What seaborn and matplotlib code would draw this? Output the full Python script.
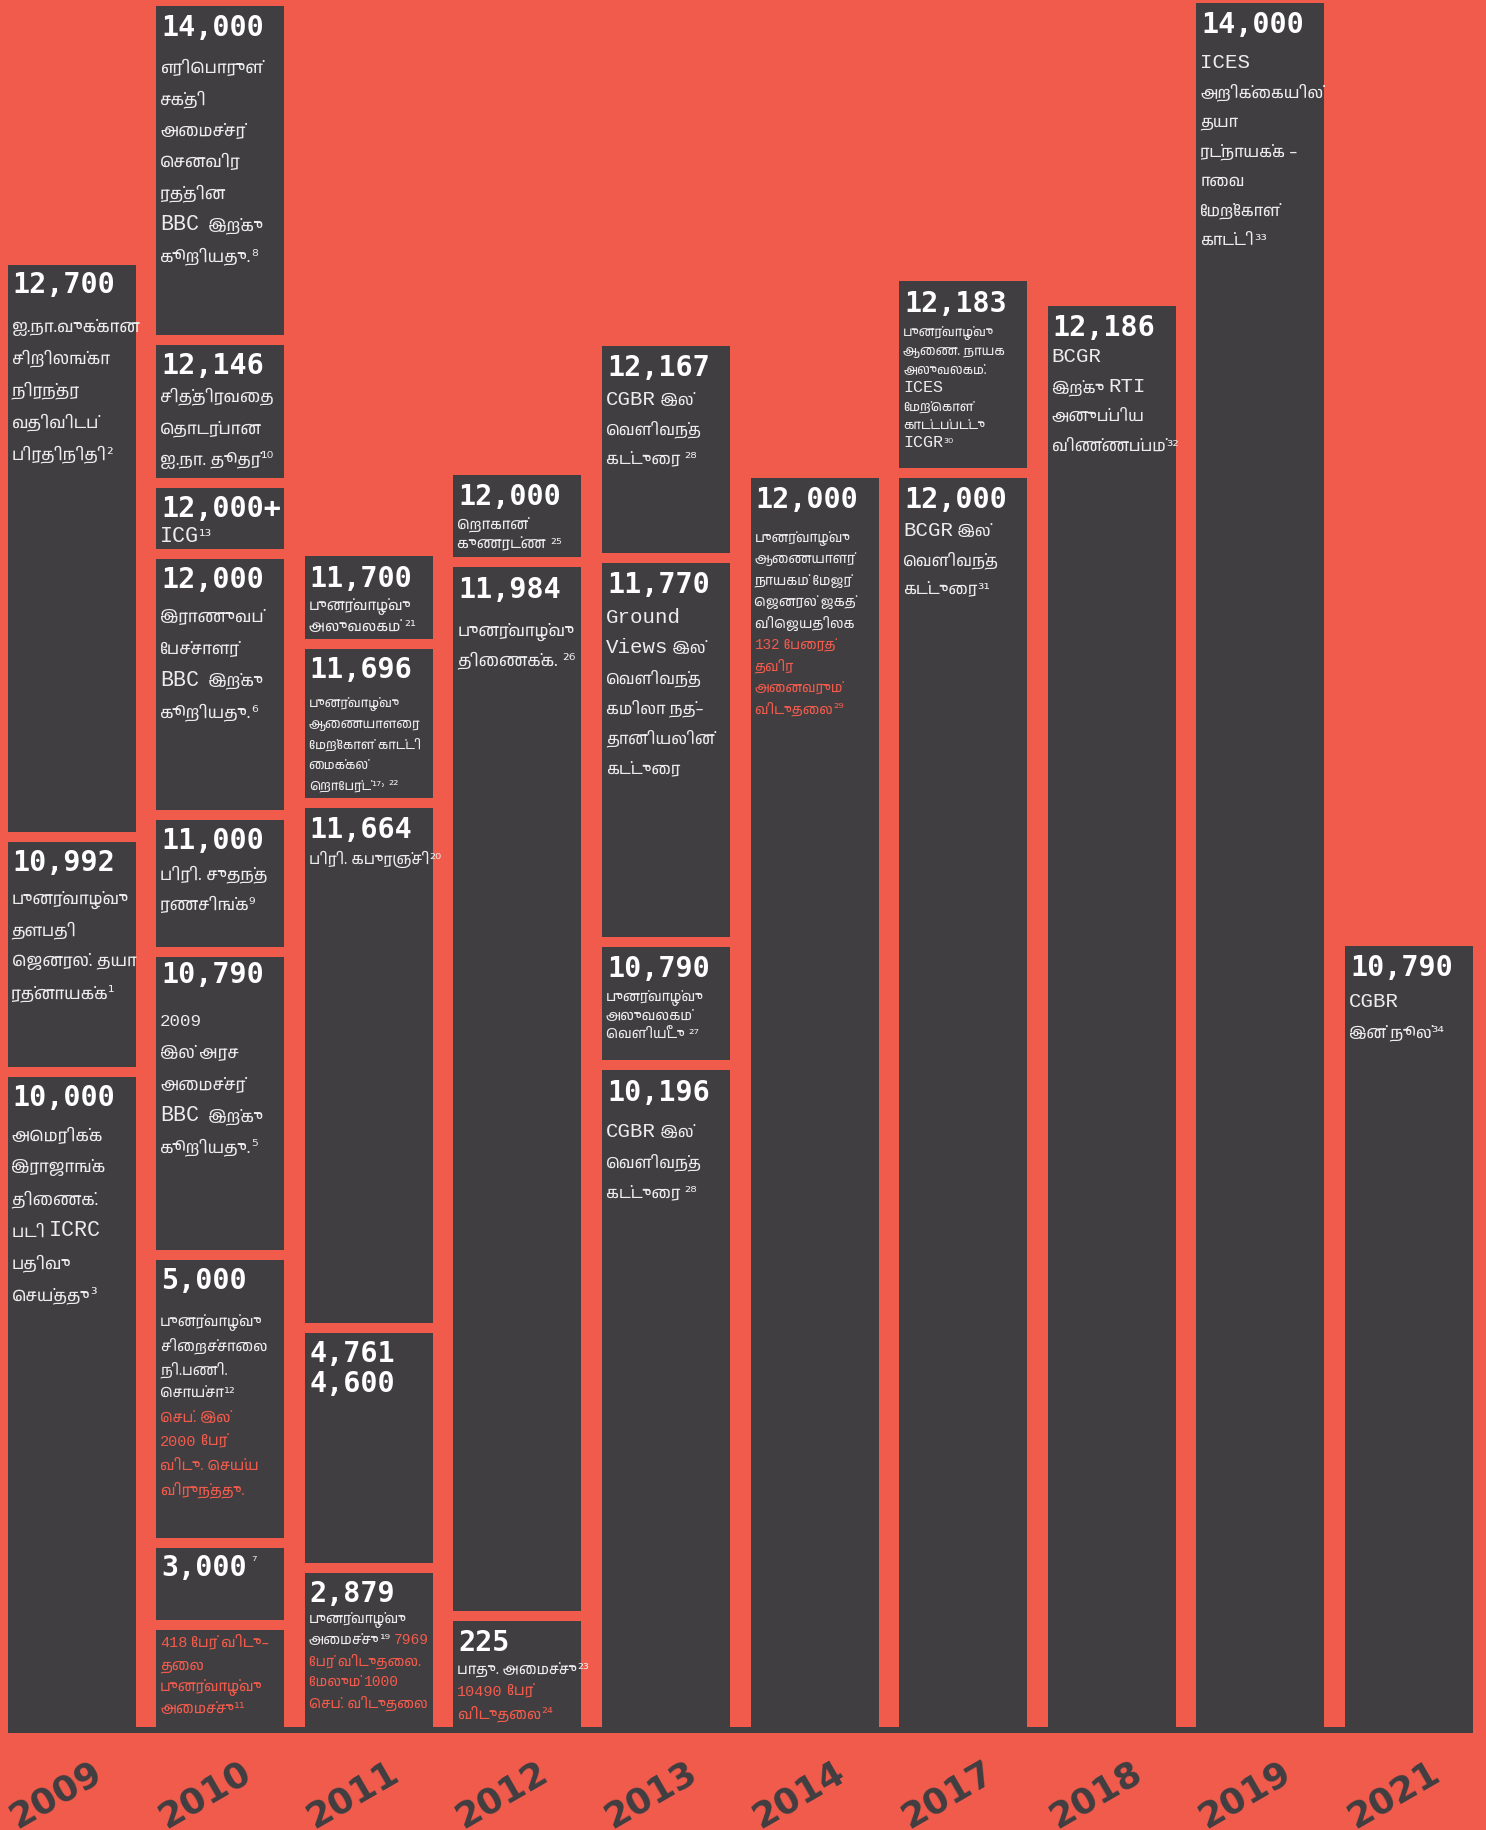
import matplotlib
matplotlib.use("Agg")
import numpy as np
import pandas as pd
import matplotlib.pyplot as plt
import seaborn as sns
from matplotlib import font_manager
from matplotlib.ft2font import FT2Font

# ---------------------------------------------------------------- data
years = ["2009", "2010", "2011", "2012", "2013", "2014", "2017", "2018", "2019", "2021"]

# each column: boxes listed from top to bottom
values_2009 = ["12,700", "10,992", "10,000"]
heights_2009 = [567, 225, 650]
notes_2009 = [["ஐ.நா.வுக்கான", "சிறிலங்கா", "நிரந்தர", "வதிவிடப்", "பிரதிநிதி²"],
              ["புனர்வாழ்வு", "தளபதி", "ஜெனரல். தயா", "ரத்னாயக்க¹"],
              ["அமெரிக்க", "இராஜாங்க", "திணைக்.", "படி ICRC", "பதிவு", "செய்தது³"]]
red_2009 = [[], [], []]

values_2010 = ["14,000", "12,146", "12,000+", "12,000", "11,000", "10,790", "5,000", "3,000⁷", ""]
heights_2010 = [329, 133, 61, 251, 127, 293, 278, 72, 97]
notes_2010 = [["எரிபொருள்", "சக்தி", "அமைச்சர்", "செனவிர", "ரத்தின", "BBC  இற்கு", "கூறியது.⁸"],
              ["சித்திரவதை", "தொடர்பான", "ஐ.நா. தூதர்¹⁰"],
              ["ICG¹³"],
              ["இராணுவப்", "பேச்சாளர்", "BBC  இற்கு", "கூறியது.⁶"],
              ["பிரி. சுதந்த", "ரணசிங்க⁹"],
              ["2009", "இல் அரச", "அமைச்சர்", "BBC  இற்கு", "கூறியது.⁵"],
              ["புனர்வாழ்வு", "சிறைச்சாலை", "நி.பணி.", "சொய்சா¹²"],
              [], []]
red_2010 = [[], [], [], [], [], [],
            ["செப். இல்", "2000 பேர்", "விடு. செய்ய", "விருந்தது."],
            [],
            ["418 பேர் விடு–", "தலை", "புனர்வாழ்வு", "அமைச்சு¹¹"]]

values_2011 = ["11,700", "11,696", "11,664", "4,761\n4,600", "2,879"]
heights_2011 = [83, 149, 515, 230, 154]
notes_2011 = [["புனர்வாழ்வு", "அலுவலகம் ²¹"],
              ["புனர்வாழ்வு", "ஆணையாளரை", "மேற்கோள் காட்டி", "மைக்கல்", "றொபேர்ட்¹⁷˒ ²²"],
              ["பிரி. கபுரஞ்சி²⁰"],
              [],
              ["புனர்வாழ்வு", "அமைச்சு¹⁹"]]
red_2011 = [[], [], [], [], [" 7969", "பேர் விடுதலை.", "மேலும் 1000", "செப். விடுதலை"]]

values_2012 = ["12,000", "11,984", "225"]
heights_2012 = [82, 1044, 106]
notes_2012 = [["றொகான்", "குணரட்ண ²⁵"], ["புனர்வாழ்வு", "திணைக்க. ²⁶"], ["பாது. அமைச்சு²³"]]
red_2012 = [[], [], ["10490 பேர்", "விடுதலை²⁴"]]

values_2013 = ["12,167", "11,770", "10,790", "10,196"]
heights_2013 = [207, 374, 113, 657]
notes_2013 = [["CGBR இல்", "வெளிவந்த", "கட்டுரை ²⁸"],
              ["Ground", "Views இல்", "வெளிவந்த", "கமிலா நத்–", "தானியலின்", "கட்டுரை"],
              ["புனர்வாழ்வு", "அலுவலகம்", "வெளியீடு ²⁷"],
              ["CGBR இல்", "வெளிவந்த", "கட்டுரை ²⁸"]]
red_2013 = [[], [], [], []]

values_2014 = ["12,000"]
heights_2014 = [1249]
notes_2014 = [["புனர்வாழ்வு", "ஆணையாளர்", "நாயகம் மேஜர்", "ஜெனரல் ஜகத்", "விஜெயதிலக"]]
red_2014 = [["132 பேரைத்", "தவிர", "அனைவரும்", "விடுதலை²⁹"]]

values_2017 = ["12,183", "12,000"]
heights_2017 = [187, 1249]
notes_2017 = [["புனர்வாழ்வு", "ஆணை. நாயக", "அலுவலகம்.", "ICES", "மேற்கொள்", "காட்டப்பட்டு", "ICGR³⁰"],
              ["BCGR இல்", "வெளிவந்த", "கட்டுரை³¹"]]
red_2017 = [[], []]

values_2018 = ["12,186"]
heights_2018 = [1421]
notes_2018 = [["BCGR", "இற்கு RTI", "அனுப்பிய", "விண்ணப்பம்³²"]]
red_2018 = [[]]

values_2019 = ["14,000"]
heights_2019 = [1724]
notes_2019 = [["ICES", "அறிக்கையில்", "தயா", "ரட்நாயக்க –", "ாவை", "மேற்கோள்", "காட்டி³³"]]
red_2019 = [[]]

values_2021 = ["10,790"]
heights_2021 = [781]
notes_2021 = [["CGBR", "இன் நூல்³⁴"]]
red_2021 = [[]]

# red text that continues on the same line as the last white line
red_inline = {("2011", 4)}

# ---------------------------------------------------------------- styles
# per box: (value centre offset, first note line offset, line spacing, note font size)
style_2009 = [(17.5, 61, 32, 12), (19, 56, 31.5, 12), (19, 58, 32, 12)]
style_2010 = [(20, 61, 31.5, 12), (19, 51, 31.5, 12), (19, 49, 0, 12), (19, 57, 32, 12),
              (19, 54, 30, 12), (16, 64, 31.5, 12), (19, 61, 24, 10.5), (17.5, 0, 0, 10.5),
              (0, 12, 22, 10.5)]
style_2011 = [(21, 49, 21, 10.5), (19, 54, 20.5, 9.3), (20, 51, 0, 11), (19, 0, 0, 10),
              (19, 45.5, 21, 10)]
style_2012 = [(20, 49, 20, 10.5), (21, 63, 30, 12), (20, 48, 22, 10.5)]
style_2013 = [(20, 54, 29, 11.5), (20, 55, 30, 11.5), (20, 49, 19, 10), (21, 62, 30, 11.5)]
style_2014 = [(20, 59.5, 21.4, 9.8)]
style_2017 = [(21, 51, 18.5, 9.3), (20, 52.5, 29, 11.5)]
style_2018 = [(20, 51, 29.5, 11.5)]
style_2019 = [(20, 59.5, 29.5, 11.5)]
style_2021 = [(20, 56, 30, 11.5)]

columns = [
    (values_2009, heights_2009, notes_2009, red_2009, style_2009),
    (values_2010, heights_2010, notes_2010, red_2010, style_2010),
    (values_2011, heights_2011, notes_2011, red_2011, style_2011),
    (values_2012, heights_2012, notes_2012, red_2012, style_2012),
    (values_2013, heights_2013, notes_2013, red_2013, style_2013),
    (values_2014, heights_2014, notes_2014, red_2014, style_2014),
    (values_2017, heights_2017, notes_2017, red_2017, style_2017),
    (values_2018, heights_2018, notes_2018, red_2018, style_2018),
    (values_2019, heights_2019, notes_2019, red_2019, style_2019),
    (values_2021, heights_2021, notes_2021, red_2021, style_2021),
]

BG = "#F15B4C"
DARK = "#403E41"
WHITE = "#FFFFFF"
LIGHT = "#ECECEC"
RED = "#F15B4C"
GAP = 10
W, H = 1486, 1830
BASE_PX = 1727
PITCH = 148.6
C0 = 71.5
BAR_W = 128 / PITCH
NUM_X = 5      # px from box left
NOTE_X = 4     # px from box left


# ---------------------------------------------------------------- fonts
def find_tamil_font():
    entries = sorted(font_manager.fontManager.ttflist,
                     key=lambda f: ("tamil" not in f.fname.lower(), f.fname))
    for f in entries:
        try:
            if FT2Font(f.fname).get_char_index(0x0B95):
                return f.name
        except Exception:
            continue
    return None


sns.set_theme(style="white")
TAMIL = find_tamil_font()
TAMIL_FAMILY = ([TAMIL] if TAMIL else []) + ["DejaVu Sans"]
LATIN_FAMILY = ["Liberation Mono", "DejaVu Sans"]
SUP_FAMILY = ["DejaVu Sans"]
plt.rcParams["font.family"] = ["DejaVu Sans"]

PRE_BASE = {"\u0BC6", "\u0BC7", "\u0BC8"}
TWO_PART = {"\u0BCA": ("\u0BC6", "\u0BBE"), "\u0BCB": ("\u0BC7", "\u0BBE"),
            "\u0BCC": ("\u0BC6", "\u0BD7")}
SUPS = "⁰¹²³⁴⁵⁶⁷⁸⁹˒"


def visual_order(s):
    """matplotlib has no complex shaping: move Tamil pre-base vowel signs in front."""
    out = []
    for ch in s:
        if ch in TWO_PART:
            pre, post = TWO_PART[ch]
            if out:
                out.insert(len(out) - 1, pre)
            else:
                out.append(pre)
            out.append(post)
        elif ch in PRE_BASE and out:
            out.insert(len(out) - 1, ch)
        else:
            out.append(ch)
    return "".join(out)


def char_class(c):
    if c.isascii() and c.isalpha():
        return "latin"
    if c.isascii() and c.isdigit():
        return "digit"
    if c in SUPS:
        return "sup"
    return "tamil"


def split_runs(s):
    runs = []
    for c in s:
        cl = char_class(c)
        if runs and runs[-1][0] == cl:
            runs[-1][1] += c
        else:
            runs.append([cl, c])
    return runs


FAMILIES = {"latin": LATIN_FAMILY, "digit": LATIN_FAMILY, "sup": SUP_FAMILY,
            "tamil": TAMIL_FAMILY}
SCALE = {"latin": 1.3, "digit": 1.05, "sup": 1.0, "tamil": 1.0}


def draw_line(ax, x, baseline, s, color, fs, after=None):
    prev = after
    for cl, run in split_runs(s):
        txt = visual_order(run) if cl == "tamil" else run
        kw = dict(fontsize=fs * SCALE[cl], color=color, family=FAMILIES[cl],
                  ha="left", va="baseline")
        if prev is None:
            prev = ax.text(x, baseline, txt, **kw)
        else:
            prev = ax.annotate(txt, xy=(1, baseline), xycoords=(prev, ax.transData), **kw)
    return prev


# ---------------------------------------------------------------- figure
fig = plt.figure(figsize=(W / 100, H / 100), dpi=100)
fig.patch.set_facecolor(BG)
ax = fig.add_axes([0, 0, 1, 1])
ax.set_facecolor(BG)

totals = [sum(h) + GAP * (len(h) - 1) for (_, h, _, _, _) in columns]
df = pd.DataFrame({"year": years, "total": totals})
sns.barplot(data=df, x="year", y="total", color=DARK, saturation=1, width=BAR_W,
            errorbar=None, linewidth=0, ax=ax)

VSUPS = "⁰¹²³⁴⁵⁶⁷⁸⁹"
for i, (vals, hts, notes, reds, styles) in enumerate(columns):
    year = years[i]
    tops, bottoms = [], []
    y = 0
    for h in reversed(hts):
        bottoms.append(y)
        tops.append(y + h)
        y += h + GAP
    tops = tops[::-1]
    bottoms = bottoms[::-1]
    # gaps between boxes (background strips)
    for b in bottoms[:-1]:
        ax.bar(i, GAP, bottom=b - GAP, width=BAR_W + 0.02, color=BG, linewidth=0)

    left = i - BAR_W / 2
    for k, (val, top) in enumerate(zip(vals, tops)):
        num_off, first_off, spacing, fs = styles[k]
        if val:
            for j, part in enumerate(val.split("\n")):
                main = part.rstrip(VSUPS)
                sup = part[len(main):]
                yc = top - num_off - j * 30
                t = ax.text(left + NUM_X / PITCH, yc - 10.3, main, fontsize=20.4,
                            family="DejaVu Sans Mono", fontweight="bold", color=WHITE,
                            ha="left", va="baseline")
                if sup:
                    ax.annotate(sup, xy=(1, 1), xycoords=t, xytext=(3, -1),
                                textcoords="offset points", fontsize=10, color=LIGHT,
                                family=SUP_FAMILY, ha="left", va="top")
        lines = [(s, LIGHT) for s in notes[k]] + [(s, RED) for s in reds[k]]
        fpx = fs * 100 / 72
        inline = (year, k) in red_inline
        last_artist = None
        row = 0
        for n, (s, col) in enumerate(lines):
            if inline and col == RED and n == len(notes[k]) and last_artist is not None:
                yb = top - first_off - (row - 1) * spacing - 0.33 * fpx
                last_artist = draw_line(ax, None, yb, s, col, fs, after=last_artist)
                continue
            yb = top - first_off - row * spacing - 0.33 * fpx
            last_artist = draw_line(ax, left + NOTE_X / PITCH, yb, s, col, fs)
            row += 1

# bottom band
x0 = (7.5 - C0) / PITCH
x1 = (1473 - C0) / PITCH
ax.fill_between([x0, x1], -6, 0, color=DARK, linewidth=0)

# year labels
for i, yr in enumerate(years):
    ax.text(i - 16 / PITCH, -68, yr, rotation=30, ha="center", va="center",
            fontsize=26, fontweight="bold", color=DARK)

ax.set_xlim(-C0 / PITCH, (W - C0) / PITCH)
ax.set_ylim(-(H - BASE_PX), BASE_PX)
ax.axis("off")

fig.savefig("out.png", dpi=100, facecolor=BG)
